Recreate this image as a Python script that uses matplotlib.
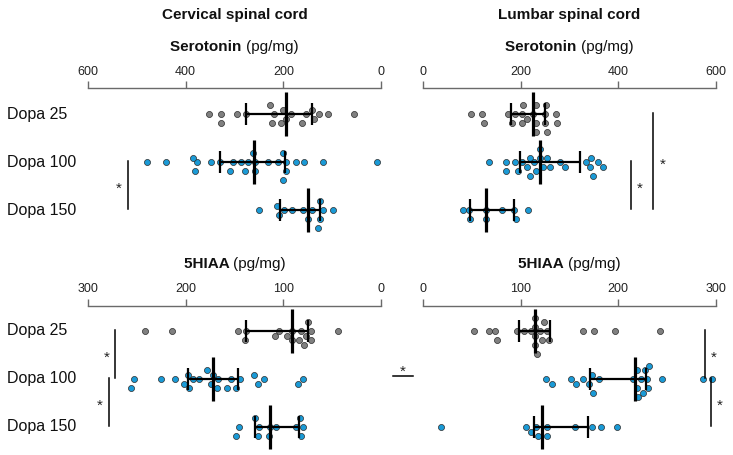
import numpy as np
import matplotlib
matplotlib.use("Agg")
import matplotlib.pyplot as plt
from matplotlib.lines import Line2D

# ---------------- data ----------------
groups = ["Dopa 25", "Dopa 100", "Dopa 150"]

cerv_5ht_25 = [352, 328, 328, 295, 276, 219, 227, 223, 205, 195, 185, 154, 142, 162, 137, 127, 108, 55, 200]
cerv_5ht_100 = [479, 441, 380, 377, 386, 349, 330, 310, 303, 287, 279, 273, 263, 259, 259, 231, 201, 195,
                195, 200, 210, 175, 158, 118, 8]
cerv_5ht_150 = [250, 208, 212, 199, 182, 159, 141, 130, 124, 119, 125, 98, 149]

lumb_5ht_25 = [98, 125, 121, 173, 181, 188, 202, 202, 205, 212, 226, 231, 231, 231, 249, 249, 253, 251, 272, 274]
lumb_5ht_100 = [135, 170, 170, 188, 194, 202, 212, 218, 218, 228, 231, 239, 239, 253, 246, 260, 280, 291,
                333, 342, 349, 359, 345, 368]
lumb_5ht_150 = [81, 96, 94, 128, 128, 162, 186, 190, 214]

cerv_hiaa_25 = [242, 214, 139, 138, 146, 109, 104, 96, 91, 91, 82, 84, 79, 75, 72, 72, 77, 44]
cerv_hiaa_100 = [256, 253, 225, 211, 202, 198, 197, 193, 186, 178, 172, 168, 167, 174, 158, 154, 148, 144,
                 130, 126, 120, 85, 80]
cerv_hiaa_150 = [148, 145, 129, 125, 126, 114, 107, 115, 83, 80, 82, 87]

lumb_hiaa_25 = [52, 67, 74, 76, 96, 103, 110, 115, 115, 115, 115, 117, 120, 124, 122, 129, 127, 164, 175,
                197, 243]
lumb_hiaa_100 = [126, 132, 152, 157, 164, 174, 173, 170, 180, 219, 231, 227, 215, 225, 219, 230, 220, 223,
                 232, 245, 287, 296]
lumb_hiaa_150 = [18, 105, 111, 118, 116, 127, 127, 156, 173, 182, 199]

# median and interquartile range
cerv_5ht_med = [195, 260, 149];   cerv_5ht_q1 = [142, 197, 125];   cerv_5ht_q3 = [276, 330, 207]
lumb_5ht_med = [226, 239, 129];   lumb_5ht_q1 = [180, 198, 96];    lumb_5ht_q3 = [250, 321, 186]
cerv_hiaa_med = [91, 172, 114];   cerv_hiaa_q1 = [75, 146, 84];    cerv_hiaa_q3 = [138, 198, 129]
lumb_hiaa_med = [115, 217, 122];  lumb_hiaa_q1 = [98, 171, 114];   lumb_hiaa_q3 = [130, 229, 169]

# significance brackets: (x value, first row, last row, star side)
cerv_5ht_sig = [(519, 1, 2, "left")]
lumb_5ht_sig = [(426, 1, 2, "right"), (472, 0, 2, "right")]
cerv_hiaa_sig = [(272, 0, 1, "left"), (278.5, 1, 2, "left")]
lumb_hiaa_sig = [(289, 0, 1, "right"), (295, 1, 2, "right")]

colors = ["#808080", "#1a9ad6", "#1a9ad6"]

# ---------------- figure ----------------
W, H = 733, 455
fig = plt.figure(figsize=(W / 100, H / 100), dpi=100)
fig.patch.set_facecolor("white")

def fx(x):
    return x / W

def fy(y):
    return 1 - y / H

ROW = 48.0  # pixel spacing between rows


def swarm_offsets(values, ppu, d=6.0, step=4.5):
    xs = np.asarray(values, float) * ppu
    order = np.argsort(xs)
    placed = []
    offs = np.zeros(len(xs))
    cands = [0.0] + [s * j * step for j in range(1, 12) for s in (1, -1)]
    for i in order:
        for c in cands:
            if all((xs[i] - xp) ** 2 + (c - yp) ** 2 >= d * d for xp, yp in placed):
                break
        placed.append((xs[i], c))
        offs[i] = c
    return offs / ROW


def make_panel(left_px, right_px, axis_px, first_row_px, bottom_px, xmax, reverse, ticks,
               data, med, q1, q3, sig):
    ax = fig.add_axes([fx(left_px), fy(bottom_px), (right_px - left_px) / W, (bottom_px - axis_px) / H])
    top = -(first_row_px - axis_px) / ROW
    bot = (bottom_px - first_row_px) / ROW
    ax.set_ylim(bot, top)
    if reverse:
        ax.set_xlim(xmax, 0)
    else:
        ax.set_xlim(0, xmax)
    ax.patch.set_alpha(0)
    for s in ["left", "right", "bottom"]:
        ax.spines[s].set_visible(False)
    ax.spines["top"].set_color("#6a6a6a")
    ax.spines["top"].set_linewidth(1.0)
    ax.xaxis.tick_top()
    ax.set_xticks(ticks)
    ax.set_xticklabels([str(t) for t in ticks], family="Liberation Sans", fontsize=9, color="#222222")
    ax.tick_params(axis="x", direction="out", length=5, width=1.0, color="#6a6a6a", pad=2.5)
    ax.set_yticks([])
    ppu = (right_px - left_px) / xmax
    for r, vals in enumerate(data):
        offs = swarm_offsets(vals, ppu)
        ax.scatter(vals, r + offs, s=19, color=colors[r], edgecolor="#2a2a2a", linewidth=0.5,
                   zorder=2, clip_on=False)
        ax.plot([q1[r], q3[r]], [r, r], color="black", lw=1.6, zorder=3, solid_capstyle="butt")
        for q in (q1[r], q3[r]):
            ax.plot([q, q], [r - 0.23, r + 0.23], color="black", lw=1.6, zorder=3, solid_capstyle="butt")
        ax.plot([med[r], med[r]], [r - 0.46, r + 0.46], color="black", lw=2.3, zorder=3,
                solid_capstyle="butt")
    for xv, r0, r1, side in sig:
        ax.plot([xv, xv], [r0 - 0.03, r1 - 0.03], color="black", lw=1.1, clip_on=False)
        sgn = -1 if side == "left" else 1
        if reverse:
            sgn = -sgn
        off = sgn * 9 / ppu
        ax.text(xv + off, (r0 + r1) / 2 + 0.05, "*", ha="center", va="center", fontsize=11,
                family="Liberation Sans", color="#222222", clip_on=False)
    return ax


make_panel(88, 381, 88, 114, 238, 600, True, [0, 200, 400, 600],
           [cerv_5ht_25, cerv_5ht_100, cerv_5ht_150], cerv_5ht_med, cerv_5ht_q1, cerv_5ht_q3, cerv_5ht_sig)
make_panel(423.3, 715.7, 88, 114, 238, 600, False, [0, 200, 400, 600],
           [lumb_5ht_25, lumb_5ht_100, lumb_5ht_150], lumb_5ht_med, lumb_5ht_q1, lumb_5ht_q3, lumb_5ht_sig)
make_panel(88, 381, 305.7, 331, 450, 300, True, [0, 100, 200, 300],
           [cerv_hiaa_25, cerv_hiaa_100, cerv_hiaa_150], cerv_hiaa_med, cerv_hiaa_q1, cerv_hiaa_q3,
           cerv_hiaa_sig)
ax_br = make_panel(423.3, 715.7, 305.7, 331, 450, 300, False, [0, 100, 200, 300],
                   [lumb_hiaa_25, lumb_hiaa_100, lumb_hiaa_150], lumb_hiaa_med, lumb_hiaa_q1, lumb_hiaa_q3,
                   lumb_hiaa_sig)

# group labels
for y0 in (114, 331):
    for i, g in enumerate(groups):
        fig.text(fx(7), fy(y0 + i * ROW), g, ha="left", va="center", fontsize=11.5,
                 family="Liberation Sans", color="#111111")

# titles
fig.text(fx(234.5), fy(15), "Cervical spinal cord", ha="center", va="center", fontsize=11,
         fontweight="bold", family="Liberation Sans", color="#111111")
fig.text(fx(569.5), fy(15), "Lumbar spinal cord", ha="center", va="center", fontsize=11,
         fontweight="bold", family="Liberation Sans", color="#111111")

renderer = fig.canvas.get_renderer()


def mixed_title(cx, cy, bold, regular):
    t1 = fig.text(0, fy(cy), bold + " ", ha="left", va="center", fontsize=11, fontweight="bold",
                  family="Liberation Sans", color="#111111")
    t2 = fig.text(0, fy(cy), regular, ha="left", va="center", fontsize=11,
                  family="Liberation Sans", color="#111111")
    w1 = t1.get_window_extent(renderer).width
    w2 = t2.get_window_extent(renderer).width
    start = cx - (w1 + w2) / 2
    t1.set_x(fx(start))
    t2.set_x(fx(start + w1))


mixed_title(234.5, 47, "Serotonin", "(pg/mg)")
mixed_title(569.5, 47, "Serotonin", "(pg/mg)")
mixed_title(234.5, 264, "5HIAA", "(pg/mg)")
mixed_title(569.5, 264, "5HIAA", "(pg/mg)")

# comparison mark between panels (Dopa 100, cervical vs lumbar 5HIAA)
fig.add_artist(Line2D([fx(393.3), fx(412.7)], [fy(376), fy(376)], color="black", lw=1.1))
fig.text(fx(403), fy(372), "*", ha="center", va="center", fontsize=11, family="Liberation Sans",
         color="#222222")

fig.savefig("out.png", dpi=100, facecolor="white")
